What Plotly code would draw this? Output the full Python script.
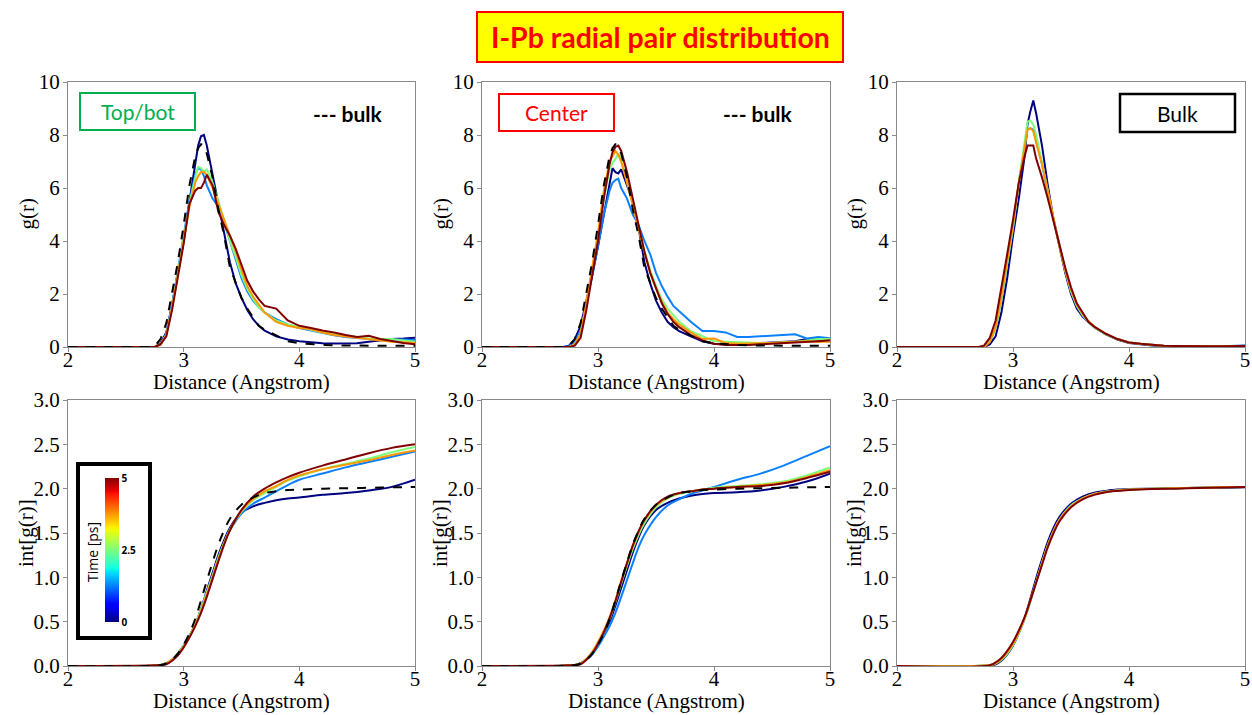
import plotly.graph_objects as go

W, H = 1252, 715

# ---------------- data ----------------
times_ps = [0, 1.25, 2.5, 3.75, 5]
line_colors = ['#000080', '#0a80ff', '#7cff7a', '#ff9700', '#800000']

r_g = [2.0, 2.7, 2.75, 2.8, 2.85, 2.9, 2.95, 3.0, 3.05, 3.1, 3.125, 3.15, 3.175, 3.2,
       3.25, 3.3, 3.35, 3.4, 3.45, 3.5, 3.55, 3.6, 3.65, 3.7, 3.8, 3.9, 4.0, 4.1, 4.2,
       4.3, 4.4, 4.5, 4.6, 4.7, 4.8, 4.9, 5.0]

r_int = [2.0, 2.8, 2.85, 2.9, 2.95, 3.0, 3.05, 3.1, 3.15, 3.2, 3.25, 3.3, 3.35, 3.4,
         3.5, 3.6, 3.7, 3.8, 3.9, 4.0, 4.2, 4.4, 4.6, 4.8, 5.0]

# dashed bulk reference
bulk_ref_g = [0, 0, 0.03, 0.3, 0.9, 2.0, 3.2, 4.6, 6.1, 7.2, 7.5, 7.65, 7.6, 7.3,
              6.4, 5.2, 4.2, 3.0, 2.4, 1.85, 1.45, 1.1, 0.8, 0.65, 0.42, 0.22, 0.14, 0.1, 0.08,
              0.06, 0.05, 0.05, 0.05, 0.05, 0.05, 0.05, 0.05]
bulk_ref_int = [0, 0.01, 0.03, 0.07, 0.14, 0.24, 0.37, 0.53, 0.74, 0.96, 1.17, 1.37, 1.53, 1.66,
                1.82, 1.9, 1.95, 1.97, 1.985, 1.99, 2.0, 2.005, 2.01, 2.015, 2.02]

# Top/bot g(r)
topbot_g_t0 = [0, 0, 0, 0.15, 0.55, 1.6, 2.8, 4.0, 5.5, 7.0, 7.6, 7.95, 8.0, 7.6,
               6.5, 5.4, 4.3, 3.2, 2.4, 1.85, 1.4, 1.05, 0.8, 0.62, 0.4, 0.28, 0.22, 0.18, 0.14,
               0.13, 0.13, 0.14, 0.2, 0.26, 0.3, 0.32, 0.35]
topbot_g_t1 = [0, 0, 0, 0.1, 0.5, 1.6, 2.9, 4.2, 5.5, 6.5, 6.75, 6.7, 6.45, 6.1,
               5.6, 5.3, 4.7, 4.0, 3.3, 2.6, 2.1, 1.75, 1.5, 1.3, 1.05, 0.85, 0.72, 0.62, 0.52,
               0.44, 0.38, 0.33, 0.3, 0.29, 0.29, 0.28, 0.26]
topbot_g_t2 = [0, 0, 0, 0.1, 0.45, 1.5, 2.8, 4.1, 5.4, 6.4, 6.8, 6.75, 6.6, 6.7,
               6.2, 5.5, 4.7, 4.0, 3.4, 2.7, 2.2, 1.8, 1.5, 1.3, 1.0, 0.85, 0.75, 0.65, 0.55,
               0.48, 0.42, 0.36, 0.32, 0.3, 0.3, 0.25, 0.2]
topbot_g_t3 = [0, 0, 0, 0.1, 0.45, 1.5, 2.7, 4.0, 5.3, 6.2, 6.45, 6.6, 6.6, 6.5,
               6.0, 5.4, 4.8, 4.2, 3.6, 2.9, 2.3, 1.9, 1.6, 1.3, 0.95, 0.8, 0.72, 0.68, 0.55,
               0.45, 0.4, 0.35, 0.3, 0.25, 0.2, 0.18, 0.15]
topbot_g_t4 = [0, 0, 0, 0.1, 0.4, 1.4, 2.6, 3.9, 5.4, 5.9, 6.0, 6.0, 6.2, 6.5,
               6.1, 5.1, 4.6, 4.2, 3.7, 3.1, 2.5, 2.1, 1.8, 1.55, 1.45, 1.0, 0.8, 0.72, 0.62,
               0.55, 0.45, 0.38, 0.42, 0.3, 0.22, 0.15, 0.1]

# Center g(r)
center_g_t0 = [0, 0, 0.05, 0.3, 0.8, 1.7, 2.7, 3.8, 5.0, 6.3, 6.75, 6.6, 6.55, 6.7,
               6.1, 5.5, 4.5, 3.2, 2.4, 1.75, 1.3, 0.95, 0.75, 0.6, 0.4, 0.22, 0.12, 0.1, 0.12,
               0.15, 0.15, 0.18, 0.2, 0.22, 0.3, 0.28, 0.3]
center_g_t1 = [0, 0, 0.03, 0.2, 0.6, 1.6, 2.7, 3.8, 5.0, 5.9, 6.2, 6.3, 6.35, 6.0,
               5.6, 5.0, 4.6, 4.0, 3.5, 2.8, 2.3, 1.9, 1.55, 1.35, 0.95, 0.6, 0.6, 0.55, 0.38,
               0.38, 0.4, 0.42, 0.45, 0.48, 0.32, 0.38, 0.33]
center_g_t2 = [0, 0, 0, 0.1, 0.5, 1.6, 2.9, 4.2, 5.6, 6.7, 6.95, 7.1, 7.3, 7.1,
               6.3, 5.4, 4.5, 3.6, 2.9, 2.3, 1.8, 1.45, 1.2, 0.95, 0.6, 0.4, 0.22, 0.2, 0.18,
               0.16, 0.15, 0.16, 0.18, 0.2, 0.25, 0.3, 0.3]
center_g_t3 = [0, 0, 0, 0.1, 0.5, 1.7, 3.0, 4.3, 5.9, 7.0, 7.2, 7.4, 7.25, 7.0,
               6.2, 5.3, 4.5, 3.6, 2.8, 2.2, 1.7, 1.3, 1.05, 0.85, 0.55, 0.3, 0.32, 0.15, 0.12,
               0.12, 0.14, 0.15, 0.18, 0.2, 0.22, 0.2, 0.2]
center_g_t4 = [0, 0, 0, 0.05, 0.35, 1.4, 2.7, 4.0, 5.6, 6.9, 7.35, 7.55, 7.6, 7.4,
               6.6, 5.6, 4.6, 3.6, 2.8, 2.2, 1.65, 1.25, 0.95, 0.75, 0.45, 0.25, 0.12, 0.08, 0.07,
               0.08, 0.1, 0.12, 0.15, 0.18, 0.2, 0.22, 0.25]

# Bulk g(r)
bulk_g_t0 = [0, 0, 0, 0.1, 0.4, 1.3, 2.6, 4.2, 5.6, 7.2, 8.4, 8.9, 9.3, 8.8,
             7.6, 6.1, 4.8, 3.8, 2.8, 2.0, 1.45, 1.15, 0.95, 0.75, 0.48, 0.28, 0.15, 0.1, 0.06,
             0.04, 0.03, 0.02, 0.02, 0.02, 0.02, 0.03, 0.05]
bulk_g_t1 = [0, 0, 0, 0.2, 0.7, 1.8, 3.1, 4.5, 6.2, 7.6, 8.2, 8.25, 8.2, 7.8,
             6.9, 5.8, 4.8, 3.8, 2.9, 2.1, 1.55, 1.2, 0.95, 0.75, 0.48, 0.3, 0.17, 0.12, 0.08,
             0.05, 0.04, 0.03, 0.03, 0.03, 0.03, 0.04, 0.06]
bulk_g_t2 = [0, 0, 0, 0.2, 0.7, 1.8, 3.1, 4.5, 6.2, 7.8, 8.5, 8.55, 8.4, 8.0,
             7.0, 5.9, 4.8, 3.8, 2.9, 2.1, 1.55, 1.2, 0.95, 0.75, 0.48, 0.3, 0.17, 0.12, 0.08,
             0.05, 0.04, 0.03, 0.03, 0.03, 0.03, 0.03, 0.04]
bulk_g_t3 = [0, 0, 0, 0.2, 0.75, 1.9, 3.2, 4.6, 6.2, 7.6, 8.2, 8.25, 8.15, 7.7,
             6.9, 5.9, 4.8, 3.8, 2.9, 2.15, 1.6, 1.25, 0.98, 0.77, 0.5, 0.3, 0.17, 0.12, 0.08,
             0.05, 0.04, 0.03, 0.03, 0.03, 0.03, 0.03, 0.04]
bulk_g_t4 = [0, 0, 0.05, 0.35, 1.0, 2.2, 3.5, 4.8, 6.2, 7.2, 7.6, 7.6, 7.6, 7.1,
             6.4, 5.6, 4.7, 3.8, 3.0, 2.25, 1.65, 1.3, 0.95, 0.77, 0.5, 0.3, 0.17, 0.12, 0.08,
             0.05, 0.04, 0.03, 0.03, 0.03, 0.03, 0.03, 0.04]

# Top/bot int[g(r)]
topbot_int_t0 = [0, 0.01, 0.03, 0.07, 0.14, 0.23, 0.34, 0.47, 0.64, 0.85, 1.05, 1.25, 1.42, 1.56,
                 1.73, 1.8, 1.84, 1.87, 1.89, 1.9, 1.93, 1.95, 1.98, 2.02, 2.1]
topbot_int_t1 = [0, 0.01, 0.03, 0.07, 0.14, 0.23, 0.34, 0.47, 0.64, 0.83, 1.02, 1.22, 1.39, 1.53,
                 1.72, 1.83, 1.9, 1.97, 2.04, 2.1, 2.17, 2.24, 2.3, 2.36, 2.42]
topbot_int_t2 = [0, 0.01, 0.03, 0.07, 0.14, 0.23, 0.34, 0.47, 0.64, 0.83, 1.02, 1.22, 1.39, 1.54,
                 1.74, 1.87, 1.95, 2.02, 2.09, 2.14, 2.22, 2.28, 2.34, 2.41, 2.47]
topbot_int_t3 = [0, 0.01, 0.03, 0.07, 0.14, 0.22, 0.33, 0.46, 0.62, 0.81, 1.0, 1.2, 1.38, 1.53,
                 1.75, 1.88, 1.97, 2.03, 2.1, 2.15, 2.22, 2.27, 2.32, 2.38, 2.43]
topbot_int_t4 = [0, 0.01, 0.02, 0.06, 0.12, 0.21, 0.32, 0.45, 0.6, 0.78, 0.98, 1.18, 1.37, 1.53,
                 1.76, 1.91, 2.0, 2.07, 2.13, 2.18, 2.26, 2.33, 2.4, 2.46, 2.5]

# Center int[g(r)]
center_int_t0 = [0, 0.01, 0.03, 0.08, 0.15, 0.25, 0.37, 0.5, 0.68, 0.88, 1.08, 1.28, 1.45, 1.59,
                 1.76, 1.84, 1.89, 1.92, 1.94, 1.95, 1.96, 1.98, 2.02, 2.08, 2.17]
center_int_t1 = [0, 0.01, 0.03, 0.07, 0.13, 0.22, 0.33, 0.45, 0.6, 0.78, 0.97, 1.16, 1.34, 1.48,
                 1.68, 1.81, 1.88, 1.94, 1.98, 2.02, 2.1, 2.17, 2.26, 2.37, 2.48]
center_int_t2 = [0, 0.01, 0.03, 0.08, 0.15, 0.26, 0.38, 0.53, 0.72, 0.93, 1.13, 1.32, 1.48, 1.61,
                 1.79, 1.89, 1.94, 1.97, 1.99, 2.01, 2.03, 2.05, 2.08, 2.15, 2.24]
center_int_t3 = [0, 0.01, 0.03, 0.08, 0.16, 0.27, 0.4, 0.55, 0.74, 0.96, 1.16, 1.35, 1.51, 1.64,
                 1.81, 1.9, 1.95, 1.97, 1.99, 2.0, 2.02, 2.04, 2.07, 2.13, 2.21]
center_int_t4 = [0, 0.01, 0.02, 0.07, 0.14, 0.25, 0.38, 0.54, 0.73, 0.95, 1.16, 1.36, 1.52, 1.65,
                 1.82, 1.91, 1.95, 1.97, 1.99, 2.0, 2.02, 2.03, 2.06, 2.12, 2.19]

# Bulk int[g(r)]
bulk_int_t0 = [0, 0.005, 0.02, 0.06, 0.13, 0.23, 0.37, 0.54, 0.76, 0.99, 1.2, 1.4, 1.56, 1.68,
               1.83, 1.91, 1.955, 1.975, 1.99, 1.995, 2.0, 2.005, 2.01, 2.01, 2.015]
bulk_int_t1 = [0, 0.01, 0.03, 0.07, 0.14, 0.24, 0.37, 0.53, 0.73, 0.95, 1.16, 1.36, 1.52, 1.65,
               1.81, 1.89, 1.94, 1.965, 1.98, 1.99, 2.0, 2.005, 2.01, 2.015, 2.02]
bulk_int_t2 = [0, 0.01, 0.03, 0.07, 0.14, 0.24, 0.37, 0.53, 0.73, 0.95, 1.16, 1.36, 1.52, 1.65,
               1.81, 1.89, 1.94, 1.965, 1.98, 1.99, 2.0, 2.005, 2.01, 2.015, 2.02]
bulk_int_t3 = [0, 0.01, 0.03, 0.08, 0.15, 0.25, 0.38, 0.54, 0.74, 0.95, 1.16, 1.36, 1.52, 1.65,
               1.8, 1.89, 1.94, 1.965, 1.98, 1.99, 2.0, 2.005, 2.01, 2.015, 2.02]
bulk_int_t4 = [0, 0.01, 0.04, 0.09, 0.17, 0.27, 0.4, 0.55, 0.74, 0.94, 1.14, 1.34, 1.5, 1.63,
               1.79, 1.88, 1.93, 1.96, 1.975, 1.985, 1.995, 2.0, 2.008, 2.014, 2.02]

x_ticks = [2, 3, 4, 5]
g_ticks = [0, 2, 4, 6, 8, 10]
int_ticks = [0, 0.5, 1.0, 1.5, 2.0, 2.5, 3.0]

title_text = 'I-Pb radial pair distribution'
region_labels = ['Top/bot', 'Center', 'Bulk']

# ---------------- layout helpers ----------------
def px(x):
    return x / W

def py(y):
    return 1 - y / H

col_px = [(68, 415), (482, 830), (897, 1245)]
row_px = [(82, 347), (400, 666)]

panels = [
    (1, 1, r_g, [topbot_g_t0, topbot_g_t1, topbot_g_t2, topbot_g_t3, topbot_g_t4], bulk_ref_g),
    (1, 2, r_g, [center_g_t0, center_g_t1, center_g_t2, center_g_t3, center_g_t4], bulk_ref_g),
    (1, 3, r_g, [bulk_g_t0, bulk_g_t1, bulk_g_t2, bulk_g_t3, bulk_g_t4], None),
    (2, 1, r_int, [topbot_int_t0, topbot_int_t1, topbot_int_t2, topbot_int_t3, topbot_int_t4], bulk_ref_int),
    (2, 2, r_int, [center_int_t0, center_int_t1, center_int_t2, center_int_t3, center_int_t4], bulk_ref_int),
    (2, 3, r_int, [bulk_int_t0, bulk_int_t1, bulk_int_t2, bulk_int_t3, bulk_int_t4], None),
]

fig = go.Figure()
layout = dict(
    width=W, height=H,
    margin=dict(l=0, r=0, t=0, b=0, autoexpand=False),
    paper_bgcolor='white', plot_bgcolor='white',
    showlegend=False,
)

serif = 'Liberation Serif, Times New Roman, serif'
axis_common = dict(
    showline=True, linecolor='#8a8a8a', linewidth=1, mirror=True,
    ticks='outside', ticklen=4, tickcolor='#8a8a8a', tickwidth=1,
    showgrid=False, zeroline=False, automargin=False,
    tickfont=dict(family=serif, size=21, color='black'),
)

annotations = []
shapes = []

for (row, col, rgrid, series, ref) in panels:
    k = (row - 1) * 3 + col
    xa = 'xaxis' if k == 1 else f'xaxis{k}'
    ya = 'yaxis' if k == 1 else f'yaxis{k}'
    xr = 'x' if k == 1 else f'x{k}'
    yr = 'y' if k == 1 else f'y{k}'
    x0, x1 = col_px[col - 1]
    y0, y1 = row_px[row - 1]
    layout[xa] = dict(axis_common, domain=[px(x0), px(x1)], anchor=yr,
                      range=[2, 5], tickvals=x_ticks, ticklabelstandoff=-10)
    if row == 1:
        layout[ya] = dict(axis_common, domain=[py(y1), py(y0)], anchor=xr,
                          range=[0, 10], tickvals=g_ticks, ticklabelstandoff=-1)
    else:
        layout[ya] = dict(axis_common, domain=[py(y1), py(y0)], anchor=xr,
                          range=[0, 3], tickvals=int_ticks, tickformat='.1f',
                          ticklabelstandoff=-1)
    shape = 'linear' if row == 1 else 'spline'
    for i, s in enumerate(series):
        fig.add_trace(go.Scatter(
            x=rgrid, y=s, xaxis=xr, yaxis=yr, mode='lines',
            line=dict(color=line_colors[i], width=2, shape=shape),
            name=f't={times_ps[i]} ps', hoverinfo='skip'))
    if ref is not None:
        fig.add_trace(go.Scatter(
            x=rgrid, y=ref, xaxis=xr, yaxis=yr, mode='lines',
            line=dict(color='black', width=2, dash='dash', shape=shape),
            name='bulk', hoverinfo='skip'))
    # axis titles
    annotations.append(dict(
        x=px((x0 + x1) / 2), y=py(382 if row == 1 else 701), xref='paper', yref='paper',
        text='Distance (Angstrom)', showarrow=False,
        font=dict(family=serif, size=21, color='black'),
        xanchor='center', yanchor='middle'))
    ylab_x = [26, 440, 854][col - 1]
    annotations.append(dict(
        x=px(ylab_x), y=py((y0 + y1) / 2), xref='paper', yref='paper',
        text='g(r)' if row == 1 else 'int[g(r)]', textangle=-90, showarrow=False,
        font=dict(family=serif, size=21, color='black'),
        xanchor='center', yanchor='middle'))

# ---------------- colorbar (Time) ----------------
jet = [
    [0.0, 'rgb(0,0,128)'], [0.11, 'rgb(0,0,255)'], [0.125, 'rgb(0,0,255)'],
    [0.34, 'rgb(0,219,255)'], [0.35, 'rgb(0,230,247)'], [0.375, 'rgb(21,255,226)'],
    [0.64, 'rgb(239,255,8)'], [0.65, 'rgb(247,245,0)'], [0.66, 'rgb(255,236,0)'],
    [0.89, 'rgb(255,19,0)'], [0.91, 'rgb(232,0,0)'], [1.0, 'rgb(128,0,0)'],
]
fig.add_trace(go.Scatter(
    x=[2, 2], y=[0, 0], xaxis='x4', yaxis='y4', mode='markers',
    marker=dict(size=1, opacity=0, color=[times_ps[0], times_ps[-1]],
                cmin=times_ps[0], cmax=times_ps[-1], colorscale=jet, showscale=True,
                colorbar=dict(
                    x=px(105), xanchor='left', xref='paper',
                    y=py(550), yanchor='middle', yref='paper',
                    len=144, lenmode='pixels', thickness=14, thicknessmode='pixels',
                    xpad=0, ypad=0, outlinewidth=0, ticks='',
                    tickvals=[0, 2.5, 5], ticktext=['<b>0</b>', '<b>2.5</b>', '<b>5</b>'],
                    tickfont=dict(family='Open Sans, sans-serif', size=10, color='black'),
                )),
    hoverinfo='skip', showlegend=False))

annotations.append(dict(
    x=px(92), y=py(552), xref='paper', yref='paper', text='Time [ps]', textangle=-90,
    showarrow=False, font=dict(family='Open Sans, sans-serif', size=14, color='black'),
    xanchor='center', yanchor='middle'))
shapes.append(dict(type='rect', xref='paper', yref='paper',
                   x0=px(78), x1=px(150), y0=py(638), y1=py(464),
                   line=dict(color='black', width=4), fillcolor='rgba(0,0,0,0)'))

# ---------------- title and region labels ----------------
shapes.append(dict(type='rect', xref='paper', yref='paper',
                   x0=px(477), x1=px(843), y0=py(62), y1=py(12),
                   line=dict(color='#ff0000', width=2), fillcolor='#ffff00', layer='below'))
annotations.append(dict(
    x=px(660), y=py(37), xref='paper', yref='paper', text=f'<b>{title_text}</b>',
    showarrow=False, font=dict(family='Lato, sans-serif', size=28.5, color='#ff0000'),
    xanchor='center', yanchor='middle'))

label_boxes = [
    (region_labels[0], (80, 195, 93, 130), '#00b050', '#00b050', 2),
    (region_labels[1], (499, 614, 94, 131), '#ff0000', '#ff0000', 2),
    (region_labels[2], (1120, 1235, 94, 132), 'black', 'black', 2.5),
]
for text, (bx0, bx1, by0, by1), lc, tc, lw in label_boxes:
    shapes.append(dict(type='rect', xref='paper', yref='paper',
                       x0=px(bx0), x1=px(bx1), y0=py(by1), y1=py(by0),
                       line=dict(color=lc, width=lw), fillcolor='white'))
    annotations.append(dict(
        x=px((bx0 + bx1) / 2), y=py((by0 + by1) / 2), xref='paper', yref='paper',
        text=text, showarrow=False, font=dict(family='Lato, sans-serif', size=21, color=tc),
        xanchor='center', yanchor='middle'))

for cx in [348, 758]:
    annotations.append(dict(
        x=px(cx), y=py(113), xref='paper', yref='paper', text='<b>--- bulk</b>',
        showarrow=False, font=dict(family='Lato, sans-serif', size=21, color='black'),
        xanchor='center', yanchor='middle'))

layout['annotations'] = annotations
layout['shapes'] = shapes
fig.update_layout(**layout)

fig.write_html('out.html')
